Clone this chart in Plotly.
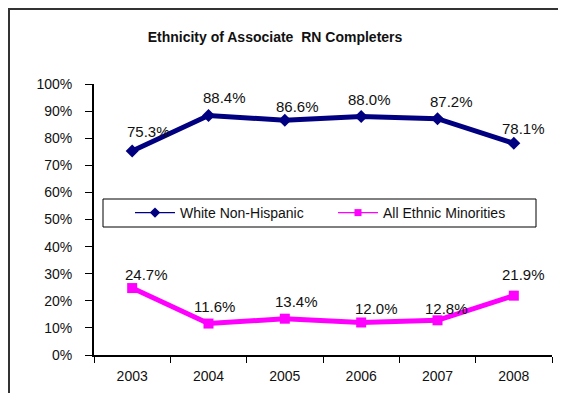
import plotly.graph_objects as go

years = ["2003", "2004", "2005", "2006", "2007", "2008"]
white_non_hispanic = [75.3, 88.4, 86.6, 88.0, 87.2, 78.1]
ethnic_minorities = [24.7, 11.6, 13.4, 12.0, 12.8, 21.9]
y_ticks = [0, 10, 20, 30, 40, 50, 60, 70, 80, 90, 100]
y_tick_labels = [f"{v}%" for v in y_ticks]

# label offsets (pixels) as placed in the original chart
white_label_dx = [16, 16, 13, 8, 14, 10]
white_label_dy = [19, 17.5, 14, 17, 17, 15]
minor_label_dx = [14, 5.5, 12, 15, 9, 10]
minor_label_dy = [14, 17, 17.5, 13.5, 12, 21]

FONT = "Liberation Sans, Arial, sans-serif"
NAVY = "#000080"
MAGENTA = "#FF00FF"

fig = go.Figure()
fig.add_trace(go.Scatter(
    x=years, y=white_non_hispanic, name="White Non-Hispanic",
    mode="lines+markers", showlegend=False,
    line=dict(color=NAVY, width=5),
    marker=dict(symbol="diamond", size=10, color=NAVY),
    cliponaxis=False,
))
fig.add_trace(go.Scatter(
    x=years, y=ethnic_minorities, name="All Ethnic Minorities",
    mode="lines+markers", showlegend=False,
    line=dict(color=MAGENTA, width=5),
    marker=dict(symbol="square", size=10, color=MAGENTA),
    cliponaxis=False,
))
# legend entries (thin lines like the original legend)
fig.add_trace(go.Scatter(
    x=[None], y=[None], name="White Non-Hispanic", mode="lines+markers",
    line=dict(color=NAVY, width=1.3),
    marker=dict(symbol="diamond", size=8, color=NAVY),
))
fig.add_trace(go.Scatter(
    x=[None], y=[None], name="All Ethnic Minorities", mode="lines+markers",
    line=dict(color=MAGENTA, width=1.3),
    marker=dict(symbol="square", size=7, color=MAGENTA),
))

for vals, dxs, dys in ((white_non_hispanic, white_label_dx, white_label_dy),
                       (ethnic_minorities, minor_label_dx, minor_label_dy)):
    for i, (v, dx, dy) in enumerate(zip(vals, dxs, dys)):
        fig.add_annotation(x=i, y=v, xref="x", yref="y",
                           text=f"{v:.1f}%", showarrow=False,
                           xanchor="center", yanchor="middle",
                           xshift=dx, yshift=dy,
                           font=dict(family=FONT, size=15, color="#111"))

# page has an 8px body margin: work in page pixels, convert to figure pixels
OFF = 8
W, H = 566 - OFF, 393 - OFF
L, T = 94 - OFF, 84 - OFF
R = 566 - 552
B = 393 - 355
pw, ph = W - L - R, H - T - B

def px_x(p):
    return (p - OFF - L) / pw

def px_y(p):
    return 1 - (p - OFF - T) / ph

fig.update_layout(
    width=W, height=H,
    margin=dict(l=L, r=R, t=T, b=B, pad=0, autoexpand=False),
    paper_bgcolor="white", plot_bgcolor="white",
    font=dict(family=FONT, size=14, color="#111"),
    title=dict(text="<b>Ethnicity of Associate  RN Completers</b>",
               x=(275 - OFF) / W, xanchor="center", y=1 - (37 - OFF) / H,
               yanchor="middle",
               font=dict(family=FONT, size=14, color="#111")),
    showlegend=True,
    legend=dict(orientation="h", x=px_x(130), xanchor="left",
                y=px_y(213), yanchor="middle",
                bgcolor="rgba(0,0,0,0)", borderwidth=0,
                font=dict(family=FONT, size=14, color="#111"),
                entrywidth=148, itemwidth=40),
    xaxis=dict(type="category", range=[-0.5, 5.5], tickson="boundaries",
               ticks="outside", ticklen=6, tickcolor="black", tickwidth=1,
               showline=True, linecolor="black", linewidth=2,
               showgrid=False, zeroline=False, ticklabelstandoff=7,
               automargin=False,
               tickfont=dict(family=FONT, size=14, color="#111")),
    yaxis=dict(range=[0, 100], tickmode="array", tickvals=y_ticks,
               ticktext=y_tick_labels,
               ticks="outside", ticklen=7, tickcolor="black", tickwidth=1,
               showline=True, linecolor="black", linewidth=2,
               showgrid=False, zeroline=False, ticklabelstandoff=10,
               automargin=False,
               tickfont=dict(family=FONT, size=14, color="#111")),
)

# legend frame
fig.add_shape(type="rect", xref="paper", yref="paper",
              x0=px_x(103), x1=px_x(536), y0=px_y(227), y1=px_y(199),
              line=dict(color="black", width=1), fillcolor="white", layer="below")

# outer chart frame
fig.add_shape(type="rect", xref="paper", yref="paper",
              x0=px_x(9), x1=px_x(566 + 10),
              y0=px_y(393 + 10), y1=px_y(9),
              line=dict(color="#333", width=2), layer="below")

fig.write_html("out.html")
